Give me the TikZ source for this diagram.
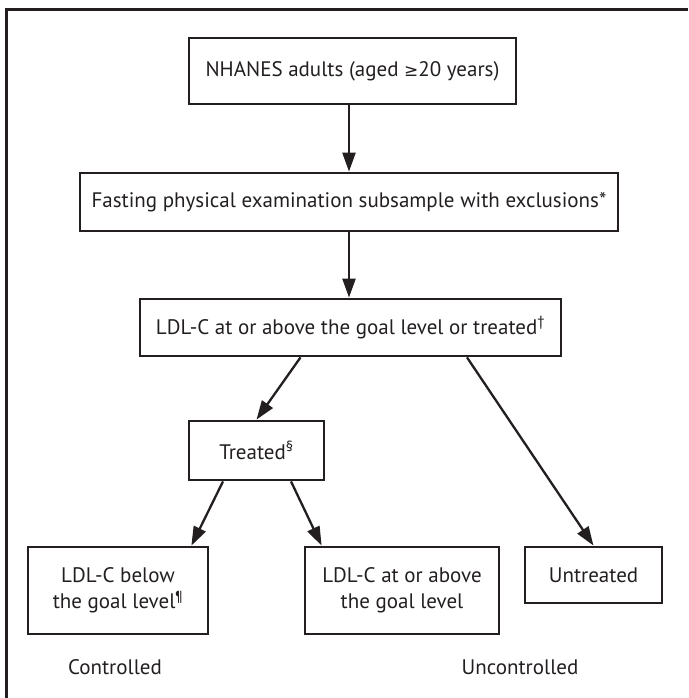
\documentclass[tikz,border=0pt]{standalone}
\usepackage{fontspec}
\setmainfont{PT Sans}
\newfontfamily\symfont{DejaVu Sans}
\usetikzlibrary{arrows.meta}
\definecolor{ink}{RGB}{35,31,32}

\begin{document}
\begin{tikzpicture}[x=1pt, y=-1pt,
	box/.style={shape=rectangle, draw=ink, line width=2.8pt, inner sep=0pt, align=center, text=ink, font=\fontsize{21}{25.7}\selectfont},
	arr/.style={draw=ink, line width=2.3pt, -{Triangle[length=19pt, width=13pt]}},
	lbl/.style={text=ink, font=\fontsize{21}{25.7}\selectfont}]

	\useasboundingbox (0, 0) rectangle (688, 698);

	% Frame:
	\draw[ink, line width=3pt] (6.5, 698) -- (6.5, 10) -- (688, 10);

	% Boxes:
	\node[box, minimum width=327pt, minimum height=66pt](N1) at (352.5, 71){NHANES adults (aged {\symfont\fontsize{17}{20}\selectfont ≥}20 years)};
	\node[box, minimum width=538pt, minimum height=58pt](N2) at (349, 202){Fasting physical examination subsample with exclusions*};
	\node[box, minimum width=421pt, minimum height=57pt](N3) at (350.5, 327.5){LDL-C at or above the goal level or treated\textsuperscript{†}};
	\node[box, minimum width=135pt, minimum height=59pt](N4) at (256.5, 450.5){Treated\textsuperscript{§}};
	\node[box, minimum width=180pt, minimum height=87pt](N5) at (118, 590.5){LDL-C below\\the goal level\textsuperscript{¶}};
	\node[box, minimum width=194pt, minimum height=87pt](N6) at (402, 590.5){LDL-C at or above\\the goal level};
	\node[box, minimum width=137pt, minimum height=56pt](N7) at (593.5, 575){Untreated};
	\node[lbl](T1) at (115, 667){Controlled};
	\node[lbl](T2) at (520, 667){Uncontrolled};

	% Arrows:
	\draw[arr] (N1.south -| N2.north) -- (N2.north);
	\draw[arr] (N2.south) -- (N2.south |- N3.north);
	\draw[arr] ([xshift=-50pt]N3.south) -- (N4.north);
	\draw[arr] ([xshift=116.5pt]N3.south) -- (N7.north);
	\draw[arr] ([xshift=-33.5pt]N4.south) -- ([xshift=-18pt]N5.north east);
	\draw[arr] ([xshift=34.5pt]N4.south) -- ([xshift=18pt]N6.north west);

\end{tikzpicture}
\end{document}
